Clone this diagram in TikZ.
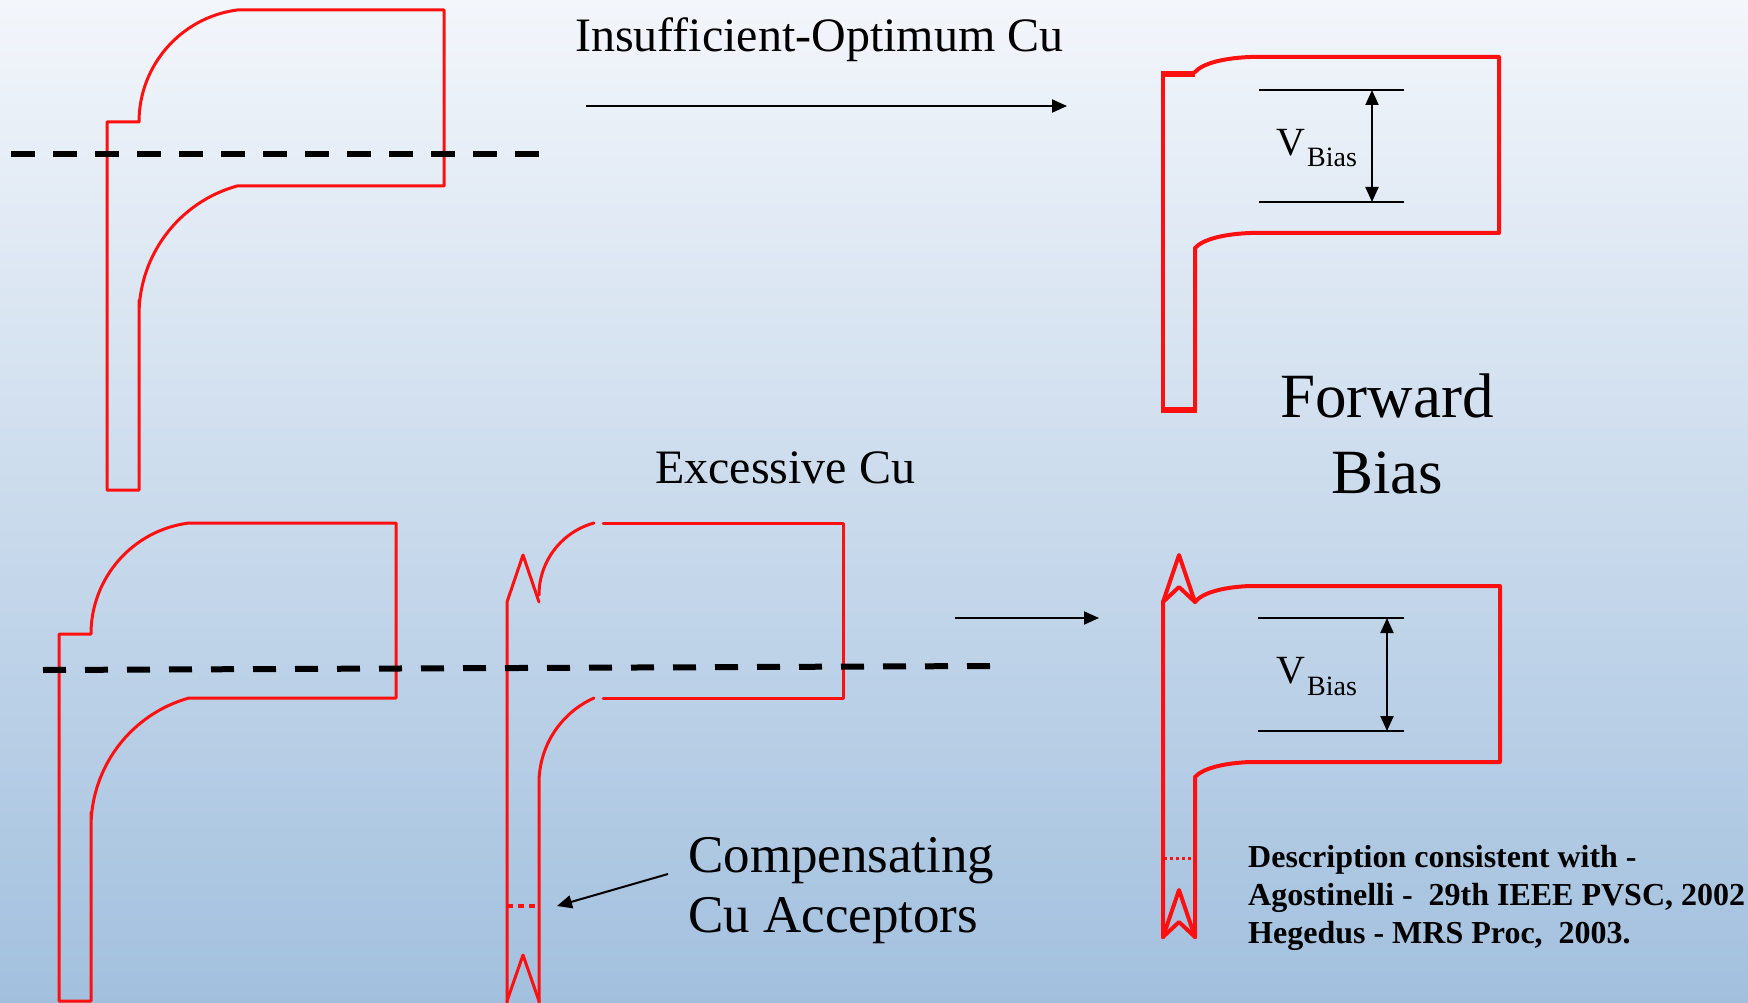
\documentclass[tikz,border=0pt]{standalone}
\usepackage{fontspec}
\setmainfont{Liberation Serif}
\usetikzlibrary{arrows.meta}
\definecolor{bgtop}{RGB}{243,246,251}
\definecolor{bgbot}{RGB}{162,192,222}
\definecolor{cured}{RGB}{255,16,16}
\tikzset{
  rl/.style={draw=cured, line width=3, line join=round, line cap=round},
  rlb/.style={draw=cured, line width=4, line join=round, line cap=round},
  rlthick/.style={draw=cured, line width=6},
  dashline/.style={draw=black, line width=6, dash pattern=on 24 off 18},
  arr/.style={draw=black, line width=2, -{Triangle[length=15,width=13]}},
  darr/.style={draw=black, line width=2, {Triangle[length=15,width=13]}-{Triangle[length=15,width=13]}},
  thinline/.style={draw=black, line width=2},
  lbl/.style={inner sep=0pt, anchor=base west, text=black},
}
\begin{document}
\begin{tikzpicture}[x=1pt,y=-1pt]
\shade[top color=bgtop, bottom color=bgbot] (0,0) rectangle (1748,1003);
\useasboundingbox (0,0) rectangle (1748,1003);

% ---------- shape 1 (top left)
\draw[rl] (139,300) -- (139,490) -- (107,490) -- (107,122) -- (139,122)
  .. controls (139,65.4) and (180.9,17.5) .. (237,10) -- (444,10) -- (444,186) -- (237,186)
  .. controls (179.1,202.1) and (139,254.9) .. (139,315);
\coordinate (d1a) at (11,154); \coordinate (d1b) at (540,154);
\draw[dashline] (d1a) -- (d1b);

% ---------- title + arrow
\node[lbl, font=\fontsize{48}{58}\selectfont] (t1) at (575,52) {Insufficient-Optimum Cu};
\coordinate (a1s) at (586,106); \coordinate (a1e) at (1067,106);
\draw[arr] (a1s) -- (a1e);

% ---------- shape 2 (top right)
\draw[rlb] (1195,410) -- (1195,248) .. controls (1203,239) and (1225,234) .. (1250,233)
  -- (1499,233) -- (1499,57) -- (1250,57) .. controls (1225,58) and (1203,63) .. (1195,72);
\draw[rlb] (1163,74) -- (1163,410);
\draw[rlthick] (1161,74) -- (1195,74);
\draw[rlthick] (1161,410) -- (1197,410);
\coordinate (v1a) at (1259,90); \coordinate (v1b) at (1404,90);
\coordinate (v1c) at (1259,202); \coordinate (v1d) at (1404,202);
\draw[thinline] (v1a) -- (v1b);
\draw[thinline] (v1c) -- (v1d);
\coordinate (v1t) at (1372,90); \coordinate (v1u) at (1372,202);
\draw[darr] (v1t) -- (v1u);
\node[lbl, font=\fontsize{40}{48}\selectfont] (vb1) at (1276,156) {V};
\node[lbl, font=\fontsize{28}{34}\selectfont] (bb1) at (1307,167) {Bias};

% ---------- Forward Bias
\node[inner sep=0pt, anchor=base, font=\fontsize{63}{76}\selectfont] (fw) at (1387,417) {Forward};
\node[inner sep=0pt, anchor=base, font=\fontsize{63}{76}\selectfont] (fb) at (1387,493) {Bias};

% ---------- Excessive Cu
\node[lbl, font=\fontsize{48}{58}\selectfont] (t2) at (655,483) {Excessive Cu};

% ---------- shape 3 (bottom left)
\draw[rl] (91,812) -- (91,1001) -- (59,1001) -- (59,634) -- (91,634)
  .. controls (91,577.6) and (133,530) .. (189,523) -- (396,523) -- (396,698) -- (189,698)
  .. controls (131.1,714.1) and (91,766.9) .. (91,827);

% ---------- shape 4 (bottom middle)
\draw[rl] (507,1003) -- (507,602) -- (523,555) -- (539,602);
\draw[rl] (539,595) .. controls (539,561.3) and (561.5,531.9) .. (594,523);
\draw[rl] (603,523) -- (843,523) -- (843,698) -- (603,698);
\draw[rl] (594,698) .. controls (560.5,713) and (539,746.3) .. (539,783) -- (539,1003);
\draw[rl] (507,1001) -- (523,955) -- (539,1001);
\draw[draw=cured, line width=4, dash pattern=on 6 off 5] (507,906) -- (539,906);

% dashed line 2
\coordinate (d2a) at (43,670); \coordinate (d2b) at (992,666);
\draw[dashline, dash pattern=on 23 off 19] (d2a) -- (d2b);

% arrow 2
\coordinate (a2s) at (955,618); \coordinate (a2e) at (1099,618);
\draw[arr] (a2s) -- (a2e);

% compensating
\node[lbl, font=\fontsize{53}{60}\selectfont] (c1) at (688,872) {Compensating};
\node[lbl, font=\fontsize{53}{60}\selectfont] (c2) at (688,932) {Cu Acceptors};
\coordinate (a3s) at (668,874); \coordinate (a3e) at (557,906);
\draw[arr] (a3s) -- (a3e);

% ---------- shape 5 (bottom right)
\draw[rlb] (1195,937) -- (1195,777) .. controls (1203,768) and (1225,763) .. (1250,762)
  -- (1500,762) -- (1500,586) -- (1250,586) .. controls (1225,587) and (1203,592) .. (1195,602)
  -- (1179,555) -- (1163,602) -- (1163,937);
\draw[rlb] (1163,602) -- (1179,587) -- (1195,602);
\draw[rlb] (1163,937) -- (1179,890) -- (1195,937);
\draw[rlb] (1163,937) -- (1179,922) -- (1195,937);
\draw[draw=cured, line width=3, dash pattern=on 3 off 3] (1164,858) -- (1192,858);
\coordinate (v2a) at (1258,618); \coordinate (v2b) at (1404,618);
\coordinate (v2c) at (1258,731); \coordinate (v2d) at (1404,731);
\draw[thinline] (v2a) -- (v2b);
\draw[thinline] (v2c) -- (v2d);
\coordinate (v2t) at (1387,618); \coordinate (v2u) at (1387,731);
\draw[darr] (v2t) -- (v2u);
\node[lbl, font=\fontsize{40}{48}\selectfont] (vb2) at (1276,683) {V};
\node[lbl, font=\fontsize{28}{34}\selectfont] (bb2) at (1307,695) {Bias};

% ---------- description
\node[lbl, font=\fontsize{32}{38}\selectfont\bfseries] (r1) at (1248,867) {Description consistent with -};
\node[lbl, font=\fontsize{32}{38}\selectfont\bfseries] (r2) at (1248,905) {Agostinelli -\ \ 29th IEEE PVSC, 2002};
\node[lbl, font=\fontsize{32}{38}\selectfont\bfseries] (r3) at (1248,943) {Hegedus - MRS Proc,\ \ 2003.};
\end{tikzpicture}
\end{document}
